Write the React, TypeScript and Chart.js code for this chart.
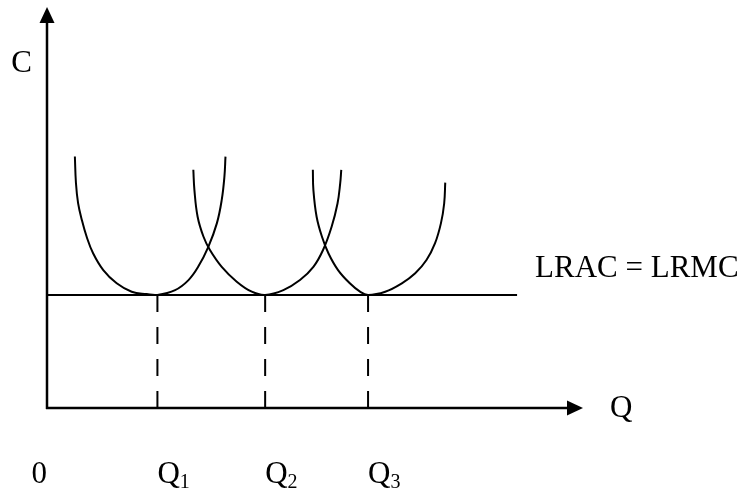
import { useEffect, useRef } from 'react';
import { Chart, registerables } from 'chart.js';

Chart.register(...registerables);

// Short-run average cost curves (Q, C)
const srac1Q = [0.52, 0.54, 0.58, 0.65, 0.74, 0.86, 1.05, 1.30, 1.58, 1.86, 2.06, 2.39, 2.64, 2.82, 3.01, 3.17, 3.26, 3.31, 3.33];
const srac1C = [6.27, 5.61, 5.11, 4.69, 4.27, 3.86, 3.44, 3.11, 2.90, 2.84, 2.82, 2.94, 3.19, 3.52, 4.02, 4.61, 5.19, 5.77, 6.27];

const srac2Q = [2.73, 2.75, 2.81, 2.92, 3.04, 3.26, 3.54, 3.82, 4.07, 4.41, 4.72, 4.97, 5.15, 5.31, 5.42, 5.47, 5.49];
const srac2C = [5.94, 5.44, 4.77, 4.27, 3.94, 3.52, 3.15, 2.90, 2.82, 2.94, 3.19, 3.52, 3.94, 4.52, 5.10, 5.60, 5.94];

const srac3Q = [4.96, 4.97, 5.03, 5.13, 5.25, 5.43, 5.65, 5.84, 5.99, 6.31, 6.62, 6.87, 7.08, 7.24, 7.35, 7.41, 7.43];
const srac3C = [5.94, 5.44, 4.77, 4.27, 3.86, 3.44, 3.11, 2.90, 2.82, 2.90, 3.11, 3.36, 3.69, 4.11, 4.61, 5.10, 5.62];

// Long-run line
const lracLevel = 2.82;
const lracEnd = 8.77;

// Quantities marked on the Q axis
const qValues = [2.06, 4.07, 5.99];
const qSubscripts = ['1', '2', '3'];

// Axis ranges
const xMax = 10;
const yMax = 10;

// Texts
const yAxisLabel = 'C';
const xAxisLabel = 'Q';
const lracLabel = 'LRAC = LRMC';
const originLabel = '0';
const qMainLabel = 'Q';

const FONT = "'Liberation Serif', 'Times New Roman', serif";

const toPoints = (xs: number[], ys: number[]) => xs.map((x, i) => ({ x, y: ys[i] }));

const diagramPlugin = {
  id: 'diagram',
  afterDatasetsDraw(chart: any) {
    const { ctx, chartArea, scales } = chart;
    const xs = scales.x;
    const ys = scales.y;
    const x0 = xs.getPixelForValue(0);
    const y0 = ys.getPixelForValue(0);
    const xEnd = xs.getPixelForValue(xMax);
    const yTop = ys.getPixelForValue(yMax);
    const head = 16;
    const half = 7.5;

    ctx.save();
    ctx.strokeStyle = '#000';
    ctx.fillStyle = '#000';
    ctx.lineWidth = 2.5;
    ctx.lineCap = 'butt';

    // y axis
    ctx.beginPath();
    ctx.moveTo(x0, y0 + 1);
    ctx.lineTo(x0, yTop + head - 1);
    ctx.stroke();
    ctx.beginPath();
    ctx.moveTo(x0, yTop);
    ctx.lineTo(x0 - half, yTop + head);
    ctx.lineTo(x0 + half, yTop + head);
    ctx.closePath();
    ctx.fill();

    // x axis
    ctx.beginPath();
    ctx.moveTo(x0 - 1, y0);
    ctx.lineTo(xEnd - head + 1, y0);
    ctx.stroke();
    ctx.beginPath();
    ctx.moveTo(xEnd, y0);
    ctx.lineTo(xEnd - head, y0 - half);
    ctx.lineTo(xEnd - head, y0 + half);
    ctx.closePath();
    ctx.fill();

    // texts
    ctx.textBaseline = 'alphabetic';
    ctx.font = `31px ${FONT}`;

    ctx.textAlign = 'right';
    ctx.fillText(yAxisLabel, x0 - 15, chartArea.top + 65);

    ctx.textAlign = 'left';
    ctx.fillText(xAxisLabel, xEnd + 27, y0 + 9);

    ctx.fillText(lracLabel, xs.getPixelForValue(lracEnd) + 18, ys.getPixelForValue(lracLevel) - 18);

    const baseY = y0 + 75;
    ctx.textAlign = 'right';
    ctx.fillText(originLabel, x0, baseY);

    ctx.textAlign = 'left';
    qValues.forEach((q, i) => {
      const px = xs.getPixelForValue(q);
      ctx.font = `31px ${FONT}`;
      ctx.fillText(qMainLabel, px, baseY);
      const w = ctx.measureText(qMainLabel).width;
      ctx.font = `20px ${FONT}`;
      ctx.fillText(qSubscripts[i], px + w, baseY + 5);
    });

    ctx.restore();
  },
};

export default function App() {
  const canvasRef = useRef<HTMLCanvasElement | null>(null);

  useEffect(() => {
    if (!canvasRef.current) return;
    const curveStyle = {
      borderColor: '#000',
      borderWidth: 2,
      pointRadius: 0,
      fill: false,
      tension: 0.4,
    };
    const datasets: any[] = [
      { label: 'SRAC1', data: toPoints(srac1Q, srac1C), ...curveStyle },
      { label: 'SRAC2', data: toPoints(srac2Q, srac2C), ...curveStyle },
      { label: 'SRAC3', data: toPoints(srac3Q, srac3C), ...curveStyle },
      {
        label: 'LRAC = LRMC',
        data: [{ x: 0, y: lracLevel }, { x: lracEnd, y: lracLevel }],
        borderColor: '#000',
        borderWidth: 2,
        pointRadius: 0,
        tension: 0,
      },
      ...qValues.map((q, i) => ({
        label: 'Q' + qSubscripts[i],
        data: [{ x: q, y: lracLevel }, { x: q, y: 0 }],
        borderColor: '#000',
        borderWidth: 2,
        borderDash: [17, 15],
        pointRadius: 0,
        tension: 0,
      })),
    ];

    const chart = new Chart(canvasRef.current, {
      type: 'line',
      data: { datasets },
      options: {
        animation: false,
        responsive: false,
        events: [],
        layout: { padding: { left: 47, top: 7, right: 164, bottom: 84 } },
        plugins: { legend: { display: false }, tooltip: { enabled: false }, title: { display: false } },
        scales: {
          x: { type: 'linear', min: 0, max: xMax, display: false },
          y: { type: 'linear', min: 0, max: yMax, display: false },
        },
        elements: { line: { capBezierPoints: false } },
      },
      plugins: [diagramPlugin],
    });
    return () => chart.destroy();
  }, []);

  return (
    <div style={{ position: 'absolute', left: 0, top: 0, width: 747, height: 492, background: '#fff' }}>
      <canvas ref={canvasRef} width={747} height={492} style={{ display: 'block' }} />
    </div>
  );
}
